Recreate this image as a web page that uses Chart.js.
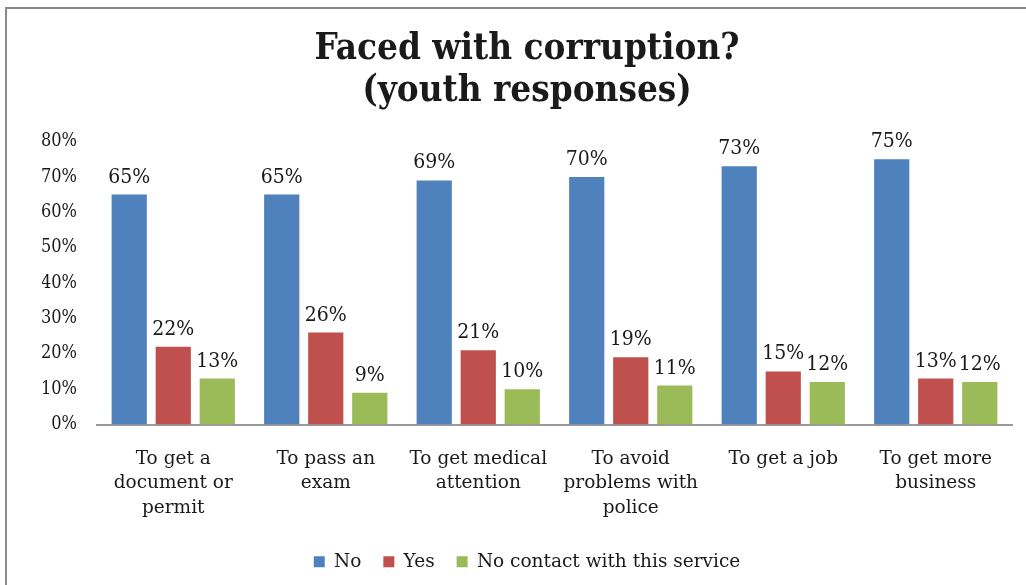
<!DOCTYPE html>
<html>
<head>
<meta charset="utf-8">
<script src="https://cdn.jsdelivr.net/npm/chart.js@4"></script>
<style>
  html, body { margin: 0; padding: 0; background: #fff; }
  #wrap { position: relative; width: 1026px; height: 585px; }
  #frame { position: absolute; left: 5px; top: 7px; right: 0; bottom: 0;
           border-top: 2px solid #8a8a8a; border-left: 2px solid #8a8a8a; pointer-events: none; }
  canvas { position: absolute; left: 0; top: 0; }
</style>
</head>
<body>
<div id="wrap">
  <canvas id="c" width="1026" height="585"></canvas>
  <div id="frame"></div>
</div>
<script>
// Survey categories and the share of responses per answer
const categories = [
  ["To get a", "document or", "permit"],
  ["To pass an", "exam"],
  ["To get medical", "attention"],
  ["To avoid", "problems with", "police"],
  "To get a job",
  ["To get more", "business"]
];
const seriesNo = [65, 65, 69, 70, 73, 75];
const seriesYes = [22, 26, 21, 19, 15, 13];
const seriesNoContact = [13, 9, 10, 11, 12, 12];
const yTicks = [0, 10, 20, 30, 40, 50, 60, 70, 80];

const SERIF = "'DejaVu Serif', 'Liberation Serif', serif";
const SERIF_NARROW = "'DejaVu Serif Condensed', 'DejaVu Serif', 'Liberation Serif', serif";
const TEXT = '#1a1a1a';

// Writes each bar's value above it
const valueLabels = {
  id: 'valueLabels',
  afterDatasetsDraw(chart) {
    const ctx = chart.ctx;
    ctx.save();
    ctx.font = "21px " + SERIF_NARROW;
    ctx.fillStyle = TEXT;
    ctx.textAlign = 'center';
    ctx.textBaseline = 'alphabetic';
    chart.data.datasets.forEach((ds, i) => {
      chart.getDatasetMeta(i).data.forEach((bar, j) => {
        ctx.fillText(ds.data[j] + '%', bar.x, bar.y - 12);
      });
    });
    ctx.restore();
  }
};

new Chart(document.getElementById('c'), {
  type: 'bar',
  data: {
    labels: categories,
    datasets: [
      { label: 'No', data: seriesNo, backgroundColor: '#4F81BD' },
      { label: 'Yes', data: seriesYes, backgroundColor: '#C0504D' },
      { label: 'No contact with this service', data: seriesNoContact, backgroundColor: '#9BBB59' }
    ]
  },
  options: {
    responsive: false,
    animation: false,
    events: [],
    categoryPercentage: 0.866,
    barPercentage: 0.8,
    layout: { padding: { left: 42, right: 14, top: 28.6, bottom: 4 } },
    plugins: {
      title: {
        display: true,
        text: ['Faced with corruption?', '(youth responses)'],
        color: TEXT,
        font: { family: SERIF_NARROW, size: 36.5, weight: 'bold', lineHeight: 1.15 },
        padding: { top: 0, bottom: 29 }
      },
      legend: {
        position: 'bottom',
        labels: {
          color: TEXT,
          boxWidth: 11,
          boxHeight: 11,
          padding: 22,
          font: { family: SERIF, size: 18.5 }
        }
      },
      tooltip: { enabled: false }
    },
    scales: {
      x: {
        grid: { display: false },
        border: { display: true, color: '#9a9a9a', width: 2 },
        afterFit(scale) { scale.height = 106; },
        ticks: { color: TEXT, font: { family: SERIF, size: 18.5, lineHeight: 1.33 }, padding: 14, maxRotation: 0, autoSkip: false }
      },
      y: {
        min: 0,
        max: 80,
        afterBuildTicks(scale) { scale.ticks = yTicks.map(v => ({ value: v })); },
        afterFit(scale) { scale.width = 55; },
        grid: { display: false },
        border: { display: false },
        ticks: { color: TEXT, font: { family: SERIF_NARROW, size: 18 }, padding: 12, callback: v => v + '%' }
      }
    }
  },
  plugins: [valueLabels]
});
</script>
</body>
</html>
